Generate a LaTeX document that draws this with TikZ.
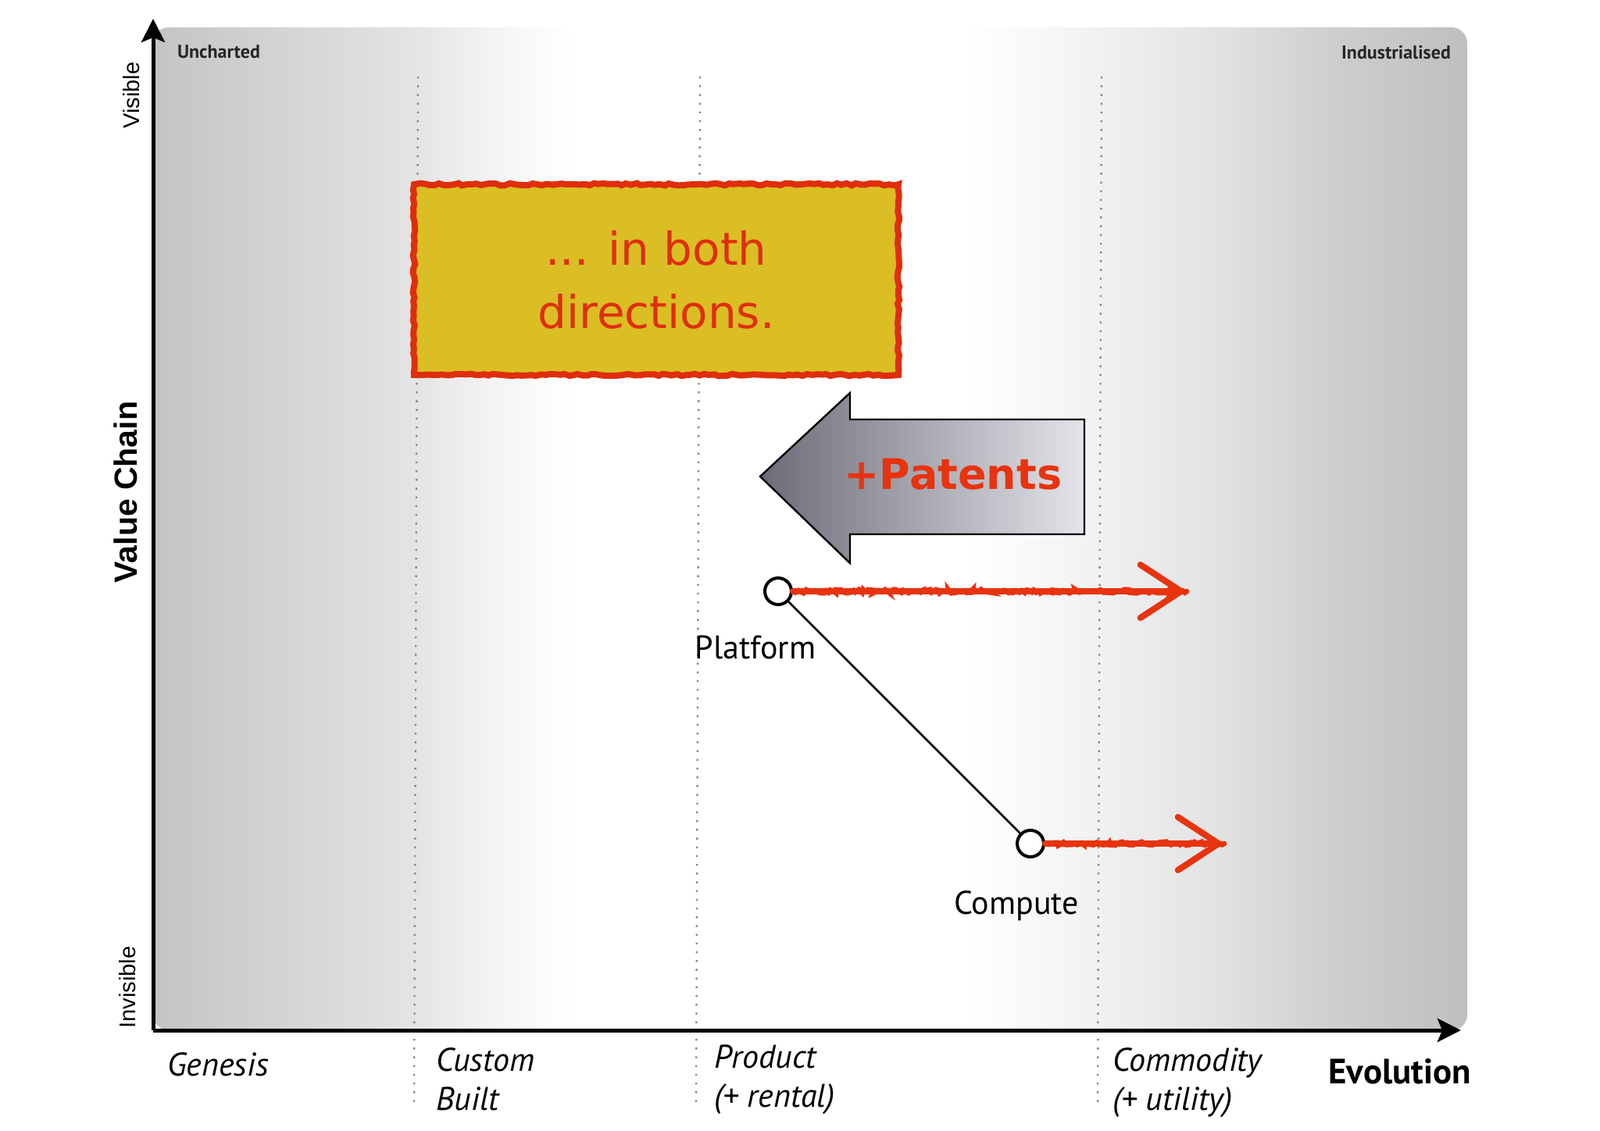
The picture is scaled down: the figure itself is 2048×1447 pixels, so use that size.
\documentclass[tikz,border=0pt]{standalone}
\usepackage{fontspec}
\setmainfont{PT Sans}
\setsansfont{PT Sans}
\newfontfamily\arialfont{Liberation Sans}
\newfontfamily\sketchfont{DejaVu Sans}
\usetikzlibrary{positioning,arrows.meta,decorations.pathmorphing}
\definecolor{bgEdgeL}{HTML}{C4C4C4}
\definecolor{bgEdgeR}{HTML}{BFBFBF}
\definecolor{bgNearL}{HTML}{D4D4D4}
\definecolor{bgNearR}{HTML}{CECECE}
\definecolor{bgMid}{HTML}{E4E4E4}
\definecolor{bgPale}{HTML}{F4F4F4}
\definecolor{noteYellow}{HTML}{DABE24}
\definecolor{noteRed}{HTML}{DF2E0C}
\definecolor{sketchRed}{HTML}{E8330F}
\definecolor{arrowDark}{HTML}{6C6C78}
\definecolor{arrowLight}{HTML}{E4E4EA}
\definecolor{gridGray}{HTML}{888888}
\pgfdeclarehorizontalshading{evolution}{100bp}{color(0bp)=(bgEdgeL); color(25bp)=(bgEdgeL);
  color(30bp)=(bgNearL); color(35bp)=(bgMid); color(38bp)=(bgPale); color(41bp)=(white);
  color(56bp)=(white); color(60bp)=(bgPale); color(65bp)=(bgMid); color(70bp)=(bgNearR);
  color(75bp)=(bgEdgeR); color(100bp)=(bgEdgeR)}
\tikzset{
  axisline/.style={line width=2.5pt, draw=black, -{Stealth[length=15pt,width=15pt,inset=3pt]}},
  stagedivider/.style={draw=gridGray, line width=1.2pt, dash pattern=on 1.2pt off 4.4pt},
  cornerlabel/.style={font=\fontsize{12}{14}\selectfont\bfseries, text=black!85},
  axislabel/.style={font=\arialfont\fontsize{14.5}{17}\selectfont, rotate=90},
  stagelabel/.style={font=\fontsize{21}{25}\selectfont\itshape, align=left, anchor=west, inner sep=0pt},
  notebox/.style={draw=noteRed, fill=noteYellow, line width=4pt,
                  minimum width=310pt, minimum height=122pt, align=center,
                  text=noteRed, font=\sketchfont\fontsize{29}{40.5}\selectfont,
                  decorate, decoration={random steps, segment length=3pt, amplitude=0.7pt}},
  component/.style={circle, draw=black, fill=white, line width=2pt, minimum size=17pt, inner sep=0pt},
  componentlabel/.style={font=\fontsize{21}{24}\selectfont, inner sep=0pt},
  chainlink/.style={draw=black, line width=1.4pt},
  sketcharrow/.style={draw=sketchRed, line width=4pt, line cap=round,
                      -{Straight Barb[length=26pt,width=34pt,line cap=round]},
                      postaction={draw=sketchRed, line width=3.4pt, -, decorate,
                                  decoration={random steps, segment length=1.5pt, amplitude=1.1pt}}}
}
\begin{document}
\begin{tikzpicture}[x=0.5pt,y=-0.5pt]
  \useasboundingbox (0,0) rectangle (2048,1447);
  % evolution background
  \shade[shading=evolution, rounded corners=10pt] (196,35) rectangle (1878,1319);
  \foreach \xt/\xb in {535/530, 896/891, 1410/1405}
    \draw[stagedivider] (\xt,98) -- (\xb,1417);

  % axes
  \coordinate (origin) at (196,1319);
  \coordinate (visibleend) at (196,24);
  \coordinate (evolutionend) at (1870,1319);
  \draw[axisline] (origin) -- (visibleend);
  \draw[axisline] (origin) -- (evolutionend);

  \node[cornerlabel, anchor=west] (uncharted) at (220,66) {Uncharted};
  \node[cornerlabel, anchor=east] (industrialised) at (1864,67) {Industrialised};
  \node[axislabel] (visible) at (168,122) {Visible};
  \node[axislabel] (invisible) at (163,1264) {Invisible};
  \node[axislabel, font=\arialfont\fontsize{20.5}{24}\selectfont\bfseries] (valuechain) at (161,630) {Value Chain};

  \node[stagelabel] (genesis) at (214,1363) {Genesis};
  \node[stagelabel] (custom) at (558,1382) {Custom\\Built};
  \node[stagelabel] (product) at (914,1382) {Product\\(+ rental)};
  \node[stagelabel] (commodity) at (1424,1386) {Commodity\\(+ utility)};
  \node[stagelabel, font=\fontsize{22.5}{25}\selectfont\bfseries] (evolution) at (1700,1372) {Evolution};

  % note and inertia arrow
  \node[notebox] (note) at (840,358) {... in both\\directions.};
  \shade[left color=arrowDark, right color=arrowLight]
    (973,610) -- (1088,503) -- (1088,537) -- (1388,537) -- (1388,684) -- (1088,684) -- (1088,721) -- cycle;
  \draw[black, line width=1.2pt]
    (973,610) -- (1088,503) -- (1088,537) -- (1388,537) -- (1388,684) -- (1088,684) -- (1088,721) -- cycle;
  \node[text=sketchRed, font=\sketchfont\fontsize{27}{32}\selectfont\bfseries] (patents) at (1220,607) {+Patents};

  % components
  \node[component] (platform) at (996,757) {};
  \node[component] (compute) at (1319,1080) {};
  \node[componentlabel] (platformlabel) at (967,829) {Platform};
  \node[componentlabel] (computelabel) at (1301,1160) {Compute};
  \draw[chainlink] (platform) -- (compute);

  \coordinate (platformshift) at (1519,757);
  \coordinate (computeshift) at (1567,1080);
  \draw[sketcharrow] (platform) -- (platformshift);
  \draw[sketcharrow] (compute) -- (computeshift);
\end{tikzpicture}
\end{document}
